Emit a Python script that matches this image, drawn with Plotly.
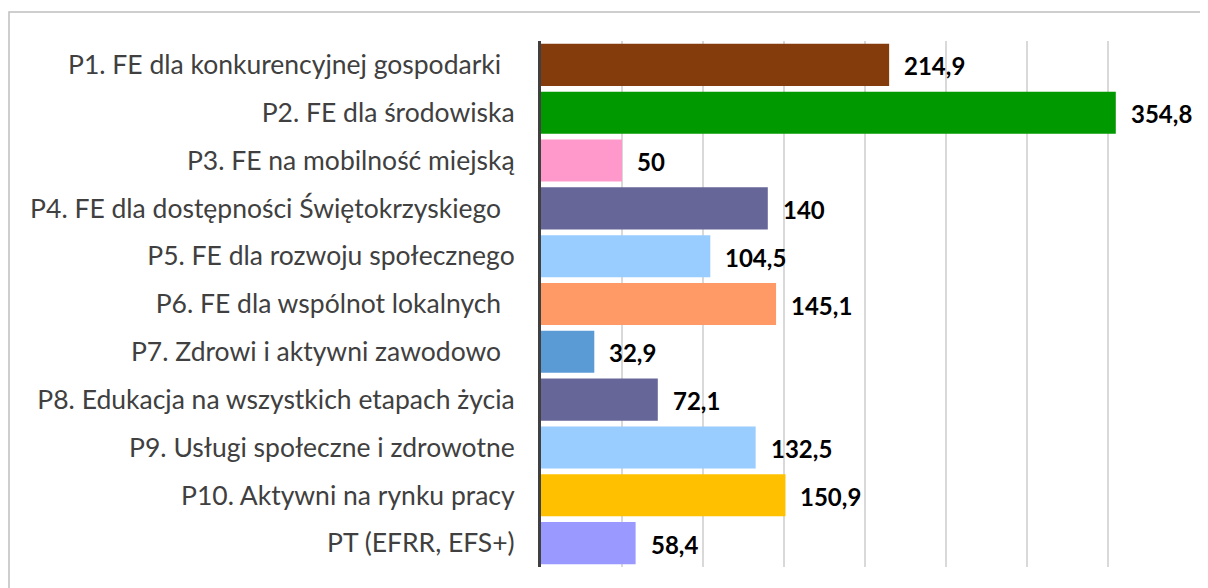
import plotly.graph_objects as go

categories = [
    "P1. FE dla konkurencyjnej gospodarki\u00a0\u00a0",
    "P2. FE dla środowiska",
    "P3. FE na mobilność miejską",
    "P4. FE dla dostępności Świętokrzyskiego\u00a0\u00a0",
    "P5. FE dla rozwoju społecznego",
    "P6. FE dla wspólnot lokalnych\u00a0\u00a0",
    "P7. Zdrowi i aktywni zawodowo\u00a0\u00a0",
    "P8. Edukacja na wszystkich etapach życia",
    "P9. Usługi społeczne i zdrowotne",
    "P10. Aktywni na rynku pracy",
    "PT (EFRR, EFS+)",
]
values = [214.9, 354.8, 50, 140, 104.5, 145.1, 32.9, 72.1, 132.5, 150.9, 58.4]
value_labels = ["214,9", "354,8", "50", "140", "104,5", "145,1", "32,9", "72,1", "132,5", "150,9", "58,4"]
colors = ["#843C0C", "#009900", "#FF99CC", "#666699", "#99CCFF", "#FF9966",
          "#5B9BD5", "#666699", "#99CCFF", "#FFC000", "#9999FF"]

# page body has an 8px margin, so the figure is laid out 8px up/left
W, H = 1200, 580
ml, mr, mt, mb = 533, 19, 33, 21

fig = go.Figure()
fig.add_trace(go.Bar(
    x=values, y=categories, orientation="h",
    marker=dict(color=colors, line=dict(width=0)),
    hoverinfo="x+y",
))

for v, lab, c in zip(values, value_labels, categories):
    fig.add_annotation(x=v, y=c, text="<b>" + lab + "</b>", showarrow=False,
                       xanchor="left", yanchor="middle", xshift=13, yshift=-1,
                       font=dict(family="Lato, Calibri, sans-serif", size=24, color="#000000"))

pw = W - ml - mr
ph = H - mt - mb
fig.add_shape(type="rect", xref="paper", yref="paper",
              x0=(1 - ml) / pw, x1=1 + (mr + 20) / pw,
              y0=-(mb + 20) / ph, y1=1 + (mt - 4) / ph,
              line=dict(color="#BFBFBF", width=1.5), fillcolor="rgba(0,0,0,0)", layer="below")

fig.update_layout(
    width=W, height=H,
    margin=dict(l=ml, r=mr, t=mt, b=mb, autoexpand=False),
    plot_bgcolor="white", paper_bgcolor="white",
    bargap=0.12,
    showlegend=False,
    xaxis=dict(range=[0, 400], dtick=50, tick0=0, showticklabels=False,
               showgrid=True, gridcolor="#D9D9D9", gridwidth=1.5,
               zeroline=False, showline=False, ticks=""),
    yaxis=dict(autorange="reversed", showgrid=False, zeroline=False,
               showline=True, linecolor="#404040", linewidth=3, ticks="",
               ticklabelstandoff=18,
               tickfont=dict(family="Lato, Calibri, sans-serif", size=26.5, color="#404040")),
)

fig.write_html("out.html")
